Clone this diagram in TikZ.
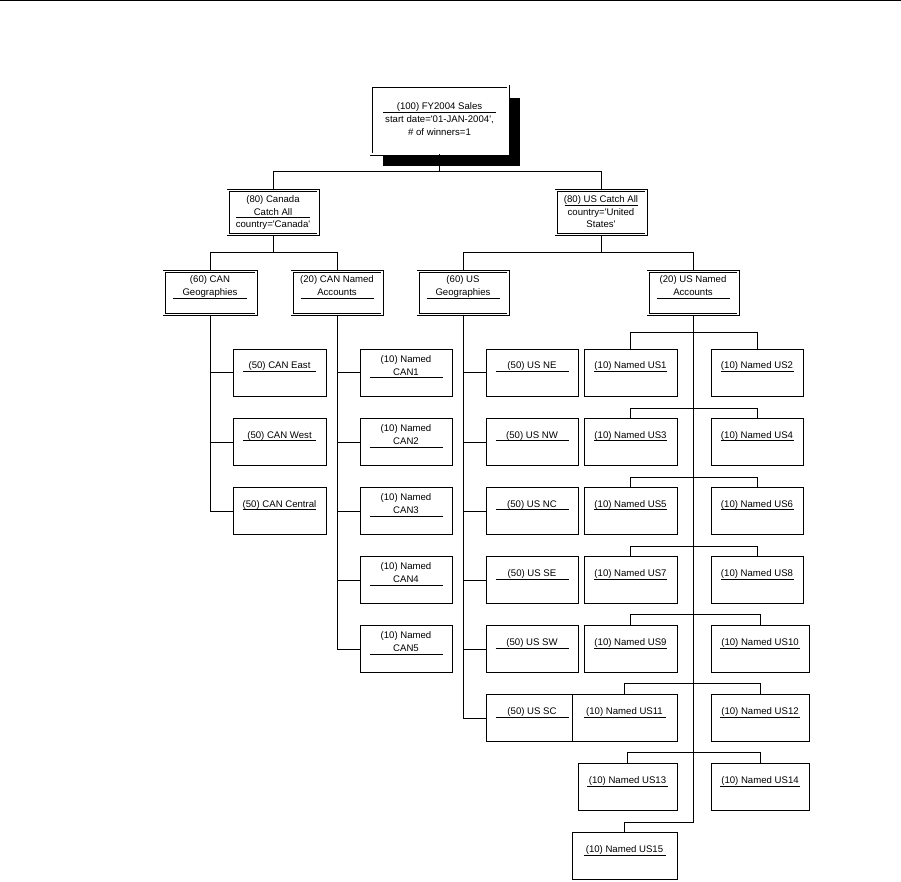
\documentclass[tikz,border=0pt]{standalone}
\usepackage{fontspec}
\newfontfamily\chartfont{Liberation Sans}
\usetikzlibrary{shadows}

\newcommand{\ulname}[3][73pt]{\strut#2\\[-9.7pt]\rule{#1}{0.7pt}\\[-3pt]#3\strut}

\begin{document}
\begin{tikzpicture}[x=1pt,y=-1pt,
    box/.style={draw,fill=white,line width=0.9pt,inner sep=0pt,align=center,
      minimum width=93pt,minimum height=47pt,
      font=\chartfont\fontsize{9.6}{12.7}\selectfont},
    group/.style={box,double,line width=0.85pt,double distance=1.3pt,
      minimum width=90pt,minimum height=44pt},
    link/.style={line width=0.9pt}]
    \useasboundingbox (0,0) rectangle (901,881);
    \draw[link] (0,0.5) -- (901,0.5);

    \node[group,minimum width=137pt,minimum height=68pt,
      drop shadow={shadow xshift=12pt,shadow yshift=-12pt,fill=black,opacity=1}]
      (fy) at (439.5,120) {\ulname[113pt]{(100) FY2004 Sales}{start date='01-JAN-2004',\\\# of winners=1}};

    \node[group] (canada) at (273,212.5) {\ulname[74pt]{(80) Canada\\Catch All}{country='Canada'}};
    \node[group] (us) at (601,212.5) {\ulname{(80) US Catch All}{country='United\\States'}};

    \node[group,minimum width=92pt,minimum height=43pt] (cangeo) at (210,293) {\ulname[74pt]{(60) CAN\\Geographies}{}};
    \node[group,minimum height=43pt] (cannamed) at (337,293) {\ulname{(20) CAN Named\\Accounts}{}};
    \node[group,minimum height=43pt] (usgeo) at (463,293) {\ulname{(60) US\\Geographies}{}};
    \node[group,minimum height=43pt] (usnamed) at (693,293) {\ulname{(20) US Named\\Accounts}{}};

    \node[box] (caneast) at (279.5,372.5) {\ulname{(50) CAN East}{}};
    \node[box] (canwest) at (279.5,442) {\ulname{(50) CAN West}{}};
    \node[box] (cancentral) at (279.5,511) {\ulname{(50) CAN Central}{}};

    \node[box,minimum width=92pt] (ncan1) at (406,372.5) {\ulname{(10) Named\\CAN1}{}};
    \node[box,minimum width=92pt] (ncan2) at (406,442) {\ulname{(10) Named\\CAN2}{}};
    \node[box,minimum width=92pt] (ncan3) at (406,511) {\ulname{(10) Named\\CAN3}{}};
    \node[box,minimum width=92pt] (ncan4) at (406,580) {\ulname{(10) Named\\CAN4}{}};
    \node[box,minimum width=92pt] (ncan5) at (406,649) {\ulname{(10) Named\\CAN5}{}};

    \node[box,minimum width=92pt] (usne) at (532,372.5) {\ulname{(50) US NE}{}};
    \node[box,minimum width=92pt] (usnw) at (532,442) {\ulname{(50) US NW}{}};
    \node[box,minimum width=92pt] (usnc) at (532,511) {\ulname{(50) US NC}{}};
    \node[box,minimum width=92pt] (usse) at (532,580) {\ulname{(50) US SE}{}};
    \node[box,minimum width=92pt] (ussw) at (532,649) {\ulname{(50) US SW}{}};
    \node[box,minimum width=92pt] (ussc) at (532,718) {\ulname{(50) US SC}{}};

    \node[box] (nus1) at (630.5,372.5) {\ulname{(10) Named US1}{}};
    \node[box,minimum width=92pt] (nus2) at (757,372.5) {\ulname{(10) Named US2}{}};
    \node[box] (nus3) at (630.5,442) {\ulname{(10) Named US3}{}};
    \node[box,minimum width=92pt] (nus4) at (757,442) {\ulname{(10) Named US4}{}};
    \node[box] (nus5) at (630.5,511) {\ulname{(10) Named US5}{}};
    \node[box,minimum width=92pt] (nus6) at (757,511) {\ulname{(10) Named US6}{}};
    \node[box] (nus7) at (630.5,580) {\ulname{(10) Named US7}{}};
    \node[box,minimum width=92pt] (nus8) at (757,580) {\ulname{(10) Named US8}{}};
    \node[box] (nus9) at (630.5,649) {\ulname{(10) Named US9}{}};
    \node[box,minimum width=98pt] (nus10) at (760,649) {\ulname[80pt]{(10) Named US10}{}};
    \node[box,minimum width=105pt] (nus11) at (624.5,718) {\ulname[82pt]{(10) Named US11}{}};
    \node[box,minimum width=98pt] (nus12) at (760,718) {\ulname[80pt]{(10) Named US12}{}};
    \node[box,minimum width=99pt] (nus13) at (627.5,787) {\ulname[81pt]{(10) Named US13}{}};
    \node[box,minimum width=98pt] (nus14) at (760,787) {\ulname[80pt]{(10) Named US14}{}};
    \node[box,minimum width=105pt] (nus15) at (624.5,856) {\ulname[82pt]{(10) Named US15}{}};

    \draw[link] (fy.south) -- ++(0,17) -| (canada.north);
    \draw[link] (fy.south) -- ++(0,17) -| (us.north);
    \draw[link] (canada.south) -- ++(0,18) -| (cangeo.north);
    \draw[link] (canada.south) -- ++(0,18) -| (cannamed.north);
    \draw[link] (us.south) -- ++(0,18) -| (usgeo.north);
    \draw[link] (us.south) -- ++(0,18) -| (usnamed.north);

    \draw[link] (cangeo.south) |- (caneast.west);
    \draw[link] (cangeo.south) |- (canwest.west);
    \draw[link] (cangeo.south) |- (cancentral.west);

    \draw[link] (cannamed.south) |- (ncan1.west);
    \draw[link] (cannamed.south) |- (ncan2.west);
    \draw[link] (cannamed.south) |- (ncan3.west);
    \draw[link] (cannamed.south) |- (ncan4.west);
    \draw[link] (cannamed.south) |- (ncan5.west);

    \draw[link] (usgeo.south) |- (usne.west);
    \draw[link] (usgeo.south) |- (usnw.west);
    \draw[link] (usgeo.south) |- (usnc.west);
    \draw[link] (usgeo.south) |- (usse.west);
    \draw[link] (usgeo.south) |- (ussw.west);
    \draw[link] (usgeo.south) |- (ussc.west);

    \draw[link] (usnamed.south) -- ++(0,508) -| (nus15.north);
    \draw[link] (nus1.north) -- ++(0,-16) -| (nus2.north);
    \draw[link] (nus3.north) -- ++(0,-10) -| (nus4.north);
    \draw[link] (nus5.north) -- ++(0,-10) -| (nus6.north);
    \draw[link] (nus7.north) -- ++(0,-10) -| (nus8.north);
    \draw[link] (nus9.north) -- ++(0,-11) -| (nus10.north);
    \draw[link] (nus11.north) -- ++(0,-11) -| (nus12.north);
    \draw[link] (nus13.north) -- ++(0,-11) -| (nus14.north);
  \end{tikzpicture}
\end{document}
